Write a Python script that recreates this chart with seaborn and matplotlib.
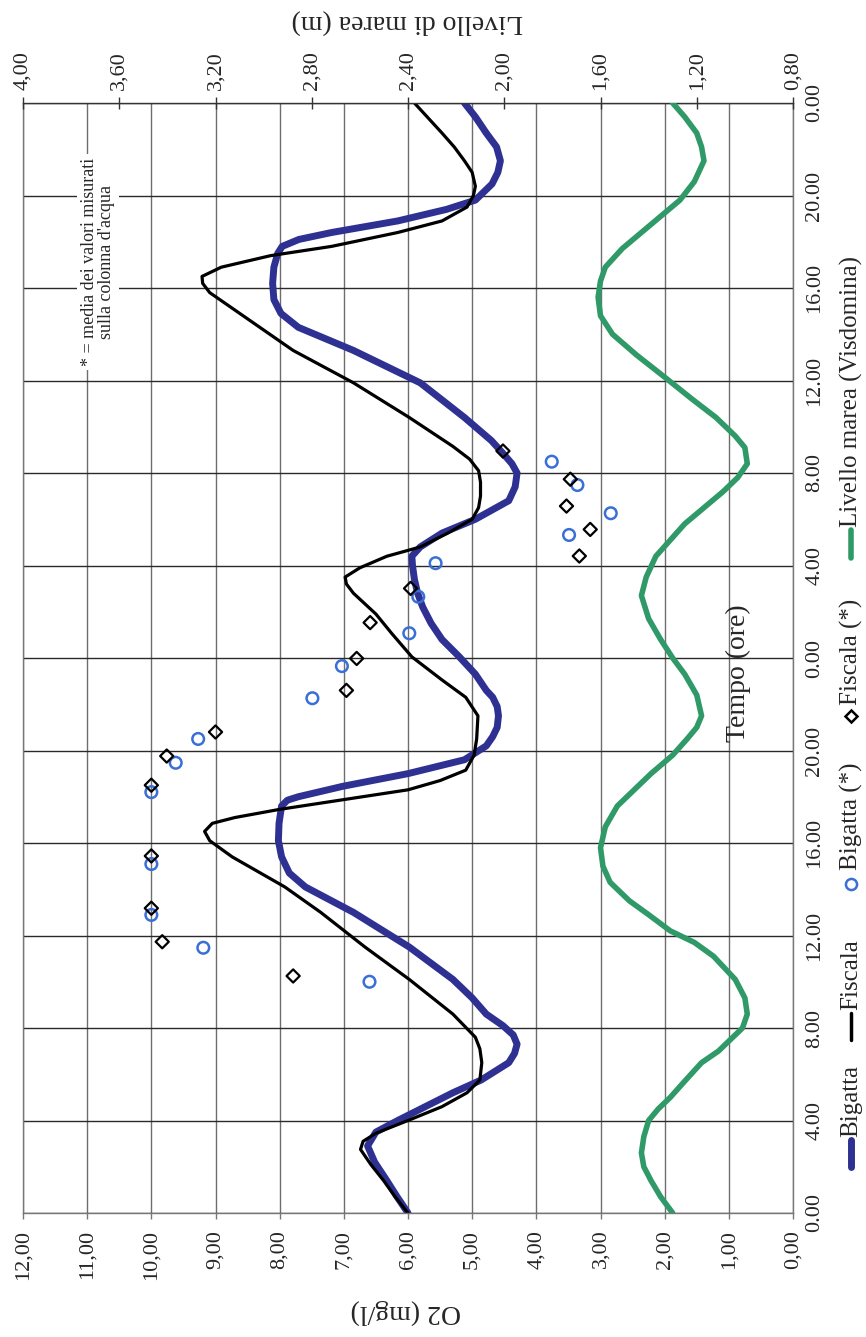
import matplotlib
matplotlib.use("Agg")
import matplotlib.pyplot as plt
from matplotlib.lines import Line2D
import seaborn as sns

# --- data (time in hours from start, O2 in mg/l, tide in m) ---
bigatta_t = [0, 0.7, 1.4, 2.2, 2.9, 3.5, 4.0, 4.6, 5.2, 5.75, 6.5, 6.9, 7.3, 7.7, 8.1, 8.6,
             9.3, 10.1, 11.5, 13.0, 14.1, 14.7, 15.4, 16.1, 16.85, 17.6, 17.85, 18.0, 18.45,
             19.0, 19.6, 20.2, 20.6, 21.0, 21.5, 21.9, 22.3, 22.6, 23.3, 24.05, 24.8, 25.5,
             26.2, 26.8, 27.4, 28.0, 28.4, 28.8, 29.4, 30.0, 30.8, 31.4, 32.0, 32.4, 32.85,
             33.4, 34.4, 35.9, 37.3, 38.3, 38.9, 39.5, 40.2, 40.9, 41.5, 41.8, 42.1, 42.4,
             42.9, 43.4, 43.8, 44.5, 45.0, 45.5, 46.1, 46.7, 47.4, 48.0]
bigatta_o2 = [6.0, 6.17, 6.33, 6.52, 6.63, 6.5, 6.16, 5.73, 5.30, 4.86, 4.43, 4.34, 4.30, 4.36,
              4.52, 4.78, 5.0, 5.30, 5.98, 6.85, 7.6, 7.85, 7.97, 8.02, 8.01, 7.97, 7.88, 7.71,
              7.02, 6.0, 5.12, 4.78, 4.68, 4.61, 4.59, 4.61, 4.68, 4.78, 4.95, 5.2, 5.47, 5.64,
              5.77, 5.85, 5.9, 5.93, 5.94, 5.81, 5.47, 4.95, 4.43, 4.33, 4.30, 4.38, 4.52,
              4.7, 5.12, 5.81, 6.85, 7.71, 7.98, 8.09, 8.11, 8.09, 8.03, 7.96, 7.7, 7.19,
              6.16, 5.4, 4.95, 4.69, 4.6, 4.56, 4.62, 4.78, 4.95, 5.12]

fiscala_t = [0, 0.7, 1.4, 2.1, 2.75, 3.1, 3.45, 4.0, 4.6, 5.2, 5.75, 6.5, 7.1, 7.6, 8.6, 10.1,
             11.5, 13.0, 14.1, 15.4, 16.1, 16.5, 16.85, 17.1, 17.45, 18.3, 18.7, 19.15, 19.8,
             20.5, 21.5, 22.3, 23.05, 24.05, 25.05, 25.9, 26.8, 27.2, 27.5, 27.9, 28.4, 28.8,
             29.4, 30.0, 30.5, 31.0, 31.6, 32.1, 32.6, 33.15, 34.4, 35.9, 37.3, 38.8, 39.8,
             40.2, 40.5, 40.9, 41.4, 41.8, 42.4, 42.9, 43.5, 44.0, 44.4, 45.0, 45.5, 46.1,
             46.7, 48.0]
fiscala_o2 = [6.0, 6.2, 6.38, 6.58, 6.74, 6.7, 6.5, 6.0, 5.47, 5.08, 4.88, 4.85, 4.88, 4.95,
              5.30, 5.98, 6.67, 7.36, 7.92, 8.74, 9.09, 9.17, 9.05, 8.7, 8.01, 6.0, 5.5, 5.1,
              4.97, 4.93, 4.91, 5.1, 5.47, 5.94, 6.25, 6.5, 6.85, 6.96, 6.98, 6.75, 6.33,
              5.81, 5.38, 5.0, 4.9, 4.87, 4.87, 4.9, 5.04, 5.3, 5.98, 6.85, 7.79, 8.57, 9.09,
              9.2, 9.21, 8.91, 8.14, 7.19, 6.16, 5.47, 5.08, 4.98, 4.95, 5.0, 5.12, 5.28,
              5.47, 5.9]

# column averages (*)
bigatta_pts_t = [10.0, 11.47, 12.89, 15.09, 18.2, 19.47, 20.5, 22.26, 23.65, 25.07, 26.65,
                 28.1, 29.32, 30.26, 31.48, 32.49]
bigatta_pts_o2 = [6.6, 9.19, 10.0, 10.0, 10.0, 9.62, 9.27, 7.49, 7.03, 5.98, 5.84, 5.57,
                  3.49, 2.84, 3.36, 3.76]
fiscala_pts_t = [10.25, 11.73, 13.18, 15.44, 18.5, 19.76, 20.8, 22.6, 23.98, 25.53, 27.01,
                 28.41, 29.56, 30.57, 31.73, 32.95]
fiscala_pts_o2 = [7.79, 9.83, 10.0, 10.0, 10.0, 9.76, 9.0, 6.96, 6.8, 6.59, 5.96, 3.33,
                  3.16, 3.53, 3.47, 4.52]

tide_t = [0, 0.7, 1.4, 2.0, 2.6, 3.3, 4.0, 4.5, 5.0, 5.7, 6.5, 7.0, 7.5, 8.0, 8.6, 9.3, 10.1,
          11.1, 11.7, 12.2, 12.9, 13.5, 14.3, 15.0, 15.8, 16.7, 17.6, 18.3, 19.0, 19.8, 20.5,
          21.0, 21.5, 22.4, 23.3, 24.0, 24.8, 25.7, 26.7, 27.5, 28.4, 29.1, 29.8, 30.5, 31.2,
          31.8, 32.4, 33.1, 33.6, 34.4, 35.2, 36.2, 37.1, 38.0, 38.8, 39.6, 40.3, 40.9, 41.7,
          42.4, 43.1, 43.8, 44.6, 45.5, 46.1, 46.7, 47.4, 48.0]
tide_m = [1.30, 1.35, 1.39, 1.42, 1.43, 1.42, 1.40, 1.36, 1.31, 1.25, 1.18, 1.11, 1.06, 1.01,
          0.99, 1.00, 1.04, 1.13, 1.21, 1.31, 1.40, 1.48, 1.56, 1.59, 1.60, 1.58, 1.53, 1.46,
          1.39, 1.30, 1.24, 1.20, 1.18, 1.20, 1.25, 1.30, 1.35, 1.40, 1.43, 1.41, 1.37, 1.31,
          1.25, 1.17, 1.09, 1.03, 0.99, 1.00, 1.04, 1.12, 1.22, 1.34, 1.45, 1.55, 1.60, 1.61,
          1.60, 1.58, 1.51, 1.43, 1.35, 1.27, 1.21, 1.17, 1.18, 1.20, 1.25, 1.30]

time_ticks = list(range(0, 49, 4))
time_labels = ["0.00", "4.00", "8.00", "12.00", "16.00", "20.00", "0.00",
               "4.00", "8.00", "12.00", "16.00", "20.00", "0.00"]
o2_ticks = list(range(0, 13))
tide_ticks = [0.8, 1.2, 1.6, 2.0, 2.4, 2.8, 3.2, 3.6, 4.0]

BLUE = "#2e3192"
BLUE_PT = "#3a6fd6"
GREEN = "#2f9a68"

sns.set_theme(style="white")
plt.rcParams["font.family"] = ["Liberation Serif", "DejaVu Serif"]

W, H = 866, 1337
fig = plt.figure(figsize=(W / 100, H / 100), dpi=100)


def fx(x):
    return x / W


def fy(y):
    return 1 - y / H


# chart is drawn rotated: O2 runs right-to-left, time runs bottom-to-top
ax = fig.add_axes([fx(23), fy(1213), 770 / W, 1110 / H])
ax.set_axisbelow(True)

sns.lineplot(x=bigatta_o2, y=bigatta_t, sort=False, orient="y", estimator=None,
             color=BLUE, lw=5, ax=ax, legend=False, solid_joinstyle="round")
sns.lineplot(x=fiscala_o2, y=fiscala_t, sort=False, orient="y", estimator=None,
             color="black", lw=2.3, ax=ax, legend=False, solid_joinstyle="round")
sns.scatterplot(x=bigatta_pts_o2, y=bigatta_pts_t, marker="o", s=70, color=BLUE_PT,
                facecolor="none", edgecolor=BLUE_PT, linewidth=1.8, ax=ax, legend=False, zorder=4)
sns.scatterplot(x=fiscala_pts_o2, y=fiscala_pts_t, marker="D", s=45, color="black",
                facecolor="none", edgecolor="black", linewidth=1.6, ax=ax, legend=False, zorder=4)

ax.set_xlim(12, 0)
ax.set_ylim(0, 48)
ax.set_xticks(o2_ticks)
ax.set_xticklabels([f"{v},00" for v in o2_ticks], rotation=90, fontsize=16)
ax.set_yticks(time_ticks)
ax.set_yticklabels(time_labels, fontsize=16)
ax.yaxis.tick_right()
for lab in ax.get_yticklabels():
    lab.set_rotation(90)
    lab.set_va("center")
ax.tick_params(axis="y", length=0, pad=9)
ax.tick_params(axis="x", bottom=True, direction="out", length=4, width=1,
               color="#777777", pad=8)
ax.xaxis.grid(True, color="#6e6e6e", lw=1)
ax.yaxis.grid(True, color="#2a2a2a", lw=1)
ax.set_xlabel("")
ax.set_ylabel("")
for s in ax.spines.values():
    s.set_color("#777777")
    s.set_linewidth(1)
ax.spines["top"].set_color("#333333")

# tide on the secondary axis (top)
ax2 = ax.twiny()
sns.lineplot(x=tide_m, y=tide_t, sort=False, orient="y", estimator=None,
             color=GREEN, lw=4, ax=ax2, legend=False, solid_joinstyle="round")
ax2.set_xlim(4.0, 0.8)
ax2.set_ylim(0, 48)
ax2.set_xticks(tide_ticks)
ax2.set_xticklabels([f"{v:.2f}".replace(".", ",") for v in tide_ticks],
                    rotation=90, fontsize=16)
ax2.tick_params(axis="x", top=True, direction="inout", length=8, width=1,
                color="#333333", pad=5)
ax2.set_xlabel("")
ax2.set_ylabel("")
ax2.grid(False)
for s in ax2.spines.values():
    s.set_visible(False)

# axis titles (upside down, as in the rotated original)
fig.text(fx(406), fy(1312), "O2 (mg/l)", rotation=180, ha="center", va="center", fontsize=20)
fig.text(fx(407), fy(21), "Livello di marea (m)", rotation=180, ha="center", va="center",
         fontsize=20)
fig.text(fx(738), fy(673), "Tempo (ore)", rotation=90, ha="center", va="center", fontsize=20)

# note box
fig.text(fx(98), fy(262), "* = media dei valori misurati\nsulla colonna d'acqua",
         rotation=90, ha="center", va="center", fontsize=13, multialignment="center",
         linespacing=0.95,
         bbox=dict(facecolor="white", edgecolor="none", pad=3))

# legend along the right edge (rotated)
LX = 851


def leg_line(y1, y2, color, lw):
    fig.add_artist(Line2D([fx(LX), fx(LX)], [fy(y1), fy(y2)], color=color, lw=lw,
                          transform=fig.transFigure))


def leg_marker(y, marker, color, ms):
    fig.add_artist(Line2D([fx(LX)], [fy(y)], marker=marker, ms=ms, mfc="none", mec=color,
                          mew=1.8, ls="none", transform=fig.transFigure))


def leg_text(y, text):
    fig.text(fx(LX), fy(y), text, rotation=90, rotation_mode="anchor", ha="left",
             va="center", fontsize=18)


leg_line(1167, 1140, BLUE, 5)
leg_text(1137, "Bigatta")
leg_line(1040, 1013, "black", 2.5)
leg_text(1010, "Fiscala")
leg_marker(884, "o", BLUE_PT, 8)
leg_text(870, "Bigatta (*)")
leg_marker(716, "D", "black", 6)
leg_text(705, "Fiscala (*)")
leg_line(558, 530, GREEN, 4)
leg_text(527, "Livello marea (Visdomina)")

fig.savefig("out.png", dpi=100, facecolor="white")
